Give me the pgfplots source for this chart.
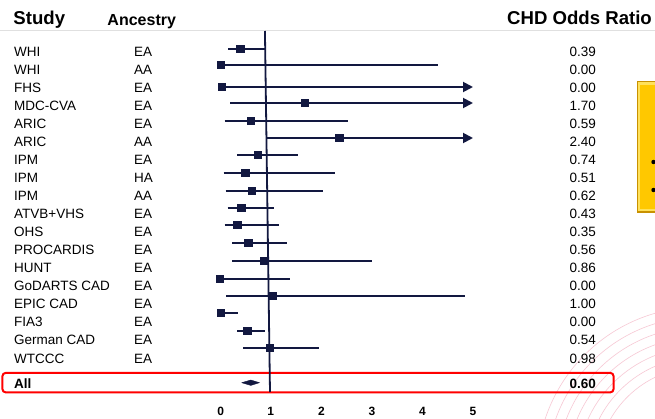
\documentclass[border=0pt]{standalone}
\usepackage{pgfplots}
\pgfplotsset{compat=1.18}
\usetikzlibrary{arrows.meta}
\usepackage{fontspec}
\setmainfont{Liberation Sans}
\definecolor{navy}{RGB}{18,24,64}
\definecolor{arcpink}{RGB}{247,200,212}
\definecolor{gold}{RGB}{255,200,0}
\definecolor{golddark}{RGB}{200,145,0}
\definecolor{goldlight}{RGB}{255,225,90}
\begin{document}
\begin{tikzpicture}
\path[use as bounding box, fill=white] (0,0) rectangle (655bp,419bp);
\clip (0,0) rectangle (655bp,419bp);
\begin{scope}[x=1bp,y=-1bp,yshift=419bp]
  \foreach \r in {103,113,123,133,143,153,163}
    \draw[arcpink, line width=0.6bp] (700,470) circle[radius=\r];
  \fill[golddark] (636.5,81.5) rectangle (660,213.5);
  \fill[goldlight] (637.5,82.5) rectangle (660,211);
  \fill[gold] (640,85) rectangle (660,209);
  \fill[black] (653.5,162) circle[radius=2.2];
  \fill[black] (653.5,190) circle[radius=2.2];
  \draw[black!12, line width=1.5bp] (0,30.5) -- (655,30.5);
  \draw[red, line width=2bp, rounded corners=3bp] (2.5,373) rectangle (613.5,392.3);
\end{scope}
\begin{axis}[at={(0,0)}, anchor=south west, scale only axis,
  width=655bp, height=419bp,
  xmin=-4.3663, xmax=8.6040, ymin=0, ymax=419, y dir=reverse,
  hide axis, clip=false]
% reference line at OR = 1
\addplot[navy, line width=1.8bp] coordinates {(0.88,31) (0.98,392)};
% confidence intervals
\pgfplotsset{ci/.style={navy, line width=1.9bp},
  cia/.style={navy, line width=1.9bp, -{Triangle[length=10bp,width=10bp]}}}
\addplot[ci]  coordinates {(0.15,49) (0.88,49)};
\addplot[ci]  coordinates {(0.00,65) (4.31,65)};
\addplot[cia] coordinates {(0.01,87) (5.00,87)};
\addplot[cia] coordinates {(0.19,103) (5.00,103)};
\addplot[ci]  coordinates {(0.08,121) (2.52,121)};
\addplot[cia] coordinates {(0.91,138) (5.00,138)};
\addplot[ci]  coordinates {(0.33,155) (1.53,155)};
\addplot[ci]  coordinates {(0.06,173) (2.27,173)};
\addplot[ci]  coordinates {(0.10,191) (2.02,191)};
\addplot[ci]  coordinates {(0.14,208) (1.05,208)};
\addplot[ci]  coordinates {(0.08,225) (1.16,225)};
\addplot[ci]  coordinates {(0.23,243) (1.32,243)};
\addplot[ci]  coordinates {(0.23,261) (2.99,261)};
\addplot[ci]  coordinates {(-0.02,279) (1.37,279)};
\addplot[ci]  coordinates {(0.11,296) (4.84,296)};
\addplot[ci]  coordinates {(0.00,313) (0.35,313)};
\addplot[ci]  coordinates {(0.33,331) (0.88,331)};
\addplot[ci]  coordinates {(0.45,348) (1.96,348)};
% point estimates
\addplot[only marks, mark=square*, mark size=3.6bp, mark options={fill=navy, draw=navy}]
  coordinates {(0.39,49) (0.00,65) (0.02,87) (1.66,103) (0.59,121)
  (2.35,138) (0.73,155) (0.49,173) (0.61,191) (0.41,208) (0.33,225)
  (0.55,243) (0.85,261) (-0.02,279) (1.03,296) (0.00,313) (0.53,331)
  (0.97,348)};
% pooled estimate
\addplot[fill=navy, draw=navy, line width=0.4bp]
  coordinates {(0.42,382.7) (0.60,380.0) (0.77,382.7) (0.60,385.4) (0.42,382.7)};
\end{axis}
\begin{scope}[x=1bp,y=-1bp,yshift=419bp]
  \begin{scope}[font=\fontsize{18.6bp}{21bp}\selectfont\bfseries]
    \node[anchor=base west, inner sep=0] at (13.3,25) {Study};
    \node[anchor=base west, inner sep=0] at (507,24.5) {CHD Odds Ratio};
  \end{scope}
  \node[anchor=base west, inner sep=0, font=\fontsize{16bp}{19bp}\selectfont\bfseries] at (107.3,25.3) {Ancestry};
  \begin{scope}[font=\fontsize{13.5bp}{16bp}\selectfont]
  \foreach \n/\a/\v [count=\i from 0] in {WHI/EA/0.39, WHI/AA/0.00, FHS/EA/0.00,
     MDC-CVA/EA/1.70, ARIC/EA/0.59, ARIC/AA/2.40, IPM/EA/0.74, IPM/HA/0.51,
     IPM/AA/0.62, ATVB+VHS/EA/0.43, OHS/EA/0.35, PROCARDIS/EA/0.56, HUNT/EA/0.86,
     GoDARTS CAD/EA/0.00, EPIC CAD/EA/1.00, FIA3/EA/0.00, German CAD/EA/0.54,
     WTCCC/EA/0.98} {
    \node[anchor=base west, inner sep=0] at (14,{56.2+18.05*\i}) {\n};
    \node[anchor=base west, inner sep=0] at (134,{56.2+18.05*\i}) {\a};
    \node[anchor=base east, inner sep=0] at (596,{56.2+18.05*\i}) {\v};
  }
  \end{scope}
  \begin{scope}[font={\fontsize{13.5bp}{16bp}\selectfont\bfseries}]
  \node[anchor=base west, inner sep=0] at (14,388.3) {All};
  \node[anchor=base east, inner sep=0] at (596,388.3) {0.60};
  \end{scope}
  \begin{scope}[font={\fontsize{12bp}{14bp}\selectfont\bfseries}]
  \foreach \t/\px in {0/220.7,1/270.8,2/321.4,3/371.9,4/422.5,5/473.0}
    \node[anchor=base, inner sep=0] at (\px,415.7) {\t};
  \end{scope}
\end{scope}
\end{tikzpicture}
\end{document}
